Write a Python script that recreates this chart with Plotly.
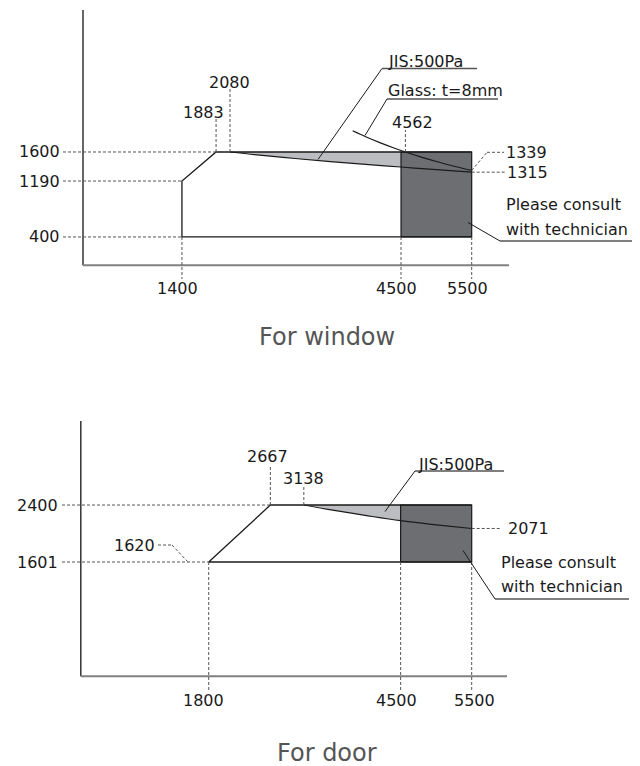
import plotly.graph_objects as go

# ---------------- data: window ----------------
win_x_ticks = [1400, 4500, 5500]
win_y_ticks = [400, 1190, 1600]
win_outline_x = [5500, 1400, 1400, 1883, 5500]
win_outline_y = [400, 400, 1190, 1600, 1600]
win_top_marks = [1883, 2080]
win_jis_x = [2080, 2500, 3000, 3500, 4000, 4500, 5000, 5500]
win_jis_y = [1600, 1555, 1508, 1465, 1425, 1388, 1350, 1315]
win_glass_x = [3816, 4000, 4200, 4400, 4562, 4800, 5000, 5250, 5500]
win_glass_y = [1900, 1816, 1733, 1657, 1600, 1524, 1466, 1399, 1339]
consult_x = [4500, 5500]
win_consult_y = [400, 1600]

# ---------------- data: door ----------------
door_x_ticks = [1800, 4500, 5500]
door_y_ticks = [1601, 2400]
door_outline_x = [5500, 1800, 2667, 5500]
door_outline_y = [1601, 1601, 2400, 2400]
door_top_marks = [2667, 3138]
door_jis_x = [3138, 3500, 4000, 4500, 5000, 5500]
door_jis_y = [2400, 2335, 2255, 2180, 2122, 2071]
door_consult_y = [1601, 2400]
door_side_label = 1620

LIGHT = "#bcbdc0"
DARK = "#6d6e71"
INK = "#1a1a1a"
DASH_C = "#555555"
FONT = "DejaVu Sans"
OFF = 8  # page body margin in the browser

# screen pixel -> data helpers (layout positioning only)
def wX(px): return (px - 83.0) * 14.15
def wY(py): return (265.3 - py) * 14.12
def dX(px): return (px - 80.8) * 14.07
def dY(py): return (676.2 - py) * 14.02

fig = go.Figure()
shapes = []
annos = []

def dash(x0, y0, x1, y1, ax):
    shapes.append(dict(type="line", xref="x" + ax, yref="y" + ax, x0=x0, y0=y0, x1=x1, y1=y1,
                       line=dict(color=DASH_C, width=1, dash="3px,2px")))

def solid(x0, y0, x1, y1, ax, color=INK, width=1):
    shapes.append(dict(type="line", xref="x" + ax, yref="y" + ax, x0=x0, y0=y0, x1=x1, y1=y1,
                       line=dict(color=color, width=width)))

def label(text, x, y, ax, xanchor="center", size=16, color=INK, family=FONT):
    annos.append(dict(text=text, x=x, y=y, xref="x" + ax, yref="y" + ax, showarrow=False,
                      xanchor=xanchor, yanchor="middle", font=dict(size=size, color=color, family=family)))

# ================= WINDOW =================
ax = ""
lx = [x for x in win_jis_x if x <= consult_x[0]]
ly = [y for x, y in zip(win_jis_x, win_jis_y) if x <= consult_x[0]]
fig.add_trace(go.Scatter(x=lx + [consult_x[0], win_jis_x[0]], y=ly + [win_y_ticks[2], win_y_ticks[2]],
                         fill="toself", fillcolor=LIGHT, mode="lines", line=dict(width=0),
                         xaxis="x", yaxis="y", hoverinfo="skip"))
fig.add_trace(go.Scatter(x=[consult_x[0], consult_x[1], consult_x[1], consult_x[0], consult_x[0]],
                         y=[win_consult_y[0], win_consult_y[0], win_consult_y[1], win_consult_y[1], win_consult_y[0]],
                         fill="toself", fillcolor=DARK, mode="lines", line=dict(color=INK, width=1.2),
                         xaxis="x", yaxis="y", hoverinfo="skip"))
fig.add_trace(go.Scatter(x=win_outline_x, y=win_outline_y, mode="lines", line=dict(color=INK, width=1.3),
                         xaxis="x", yaxis="y", hoverinfo="skip"))
fig.add_trace(go.Scatter(x=win_jis_x, y=win_jis_y, mode="lines", line=dict(color=INK, width=1.2, shape="spline"),
                         xaxis="x", yaxis="y", hoverinfo="skip"))
fig.add_trace(go.Scatter(x=win_glass_x, y=win_glass_y, mode="lines", line=dict(color=INK, width=1.2, shape="spline"),
                         xaxis="x", yaxis="y", hoverinfo="skip"))
solid(0, 0, 0, wY(10), ax, color="#333333", width=1.5)
solid(0, 0, wX(509), 0, ax, color="#808080", width=2)

guide_end = {400: 1400, 1190: 1400, 1600: 1883}
for v in win_y_ticks:
    label(str(v), wX(62), v, ax, xanchor="right")
    dash(wX(63), v, guide_end[v], v, ax)
for v in win_x_ticks:
    label(str(v), wX(83.0 + v / 14.15 - 4.5), wY(288), ax)
    dash(v, win_outline_y[0], v, wY(279), ax)
label(str(win_top_marks[0]), wX(203), wY(112), ax)
dash(win_top_marks[0], 1600, win_top_marks[0], wY(119), ax)
label(str(win_top_marks[1]), wX(229), wY(82), ax)
dash(win_top_marks[1], 1600, win_top_marks[1], wY(89), ax)
label("4562", wX(412), wY(122), ax)
dash(4562, 1600, 4562, wY(130), ax)
label(str(win_glass_y[-1]), wX(504), wY(152.5), ax, xanchor="left")
dash(win_glass_x[-1], win_glass_y[-1], wX(487), wY(152.3), ax)
dash(wX(487), wY(152.3), wX(504), wY(152.3), ax)
label(str(win_jis_y[-1]), wX(505), win_jis_y[-1], ax, xanchor="left")
dash(win_jis_x[-1], win_jis_y[-1], wX(505), win_jis_y[-1], ax)
label("JIS:500Pa", wX(386), wY(61), ax, xanchor="left")
solid(wX(382), wY(68.5), wX(477), wY(68.5), ax, color="#555555", width=1.3)
solid(wX(382), wY(68.5), wX(318), wY(159.5), ax)
label("Glass: t=8mm", wX(386), wY(90.5), ax, xanchor="left")
solid(wX(387), wY(99), wX(498), wY(99), ax, color="#555555", width=1.3)
solid(wX(387), wY(99), wX(365), wY(135.5), ax)
label("Please consult", wX(504), wY(204), ax, xanchor="left")
label("with technician", wX(504), wY(229.5), ax, xanchor="left")
solid(wX(500), wY(241), wX(634), wY(241), ax, color="#555555", width=1.3)
solid(wX(500), wY(241), wX(468), wY(222.5), ax)
label("For window", wX(327), wY(337), ax, size=24, color="#555555")

# ================= DOOR =================
ax = "2"
lx = [x for x in door_jis_x if x <= consult_x[0]]
ly = [y for x, y in zip(door_jis_x, door_jis_y) if x <= consult_x[0]]
fig.add_trace(go.Scatter(x=lx + [consult_x[0], door_jis_x[0]], y=ly + [door_y_ticks[1], door_y_ticks[1]],
                         fill="toself", fillcolor=LIGHT, mode="lines", line=dict(width=0),
                         xaxis="x2", yaxis="y2", hoverinfo="skip"))
fig.add_trace(go.Scatter(x=[consult_x[0], consult_x[1], consult_x[1], consult_x[0], consult_x[0]],
                         y=[door_consult_y[0], door_consult_y[0], door_consult_y[1], door_consult_y[1], door_consult_y[0]],
                         fill="toself", fillcolor=DARK, mode="lines", line=dict(color=INK, width=1.2),
                         xaxis="x2", yaxis="y2", hoverinfo="skip"))
fig.add_trace(go.Scatter(x=door_outline_x, y=door_outline_y, mode="lines", line=dict(color=INK, width=1.3),
                         xaxis="x2", yaxis="y2", hoverinfo="skip"))
fig.add_trace(go.Scatter(x=door_jis_x, y=door_jis_y, mode="lines", line=dict(color=INK, width=1.2, shape="spline"),
                         xaxis="x2", yaxis="y2", hoverinfo="skip"))
solid(0, 0, 0, dY(421), ax, color="#333333", width=1.5)
solid(0, 0, dX(507), 0, ax, color="#808080", width=2)

guide_end_d = {1601: 1800, 2400: 2667}
for v in door_y_ticks:
    label(str(v), dX(60), v, ax, xanchor="right")
    dash(dX(62), v, guide_end_d[v], v, ax)
x_shift_d = {1800: -5, 4500: -4, 5500: 3}
for v in door_x_ticks:
    label(str(v), dX(80.8 + v / 14.07 + x_shift_d[v]), dY(700), ax)
    dash(v, door_y_ticks[0], v, dY(692), ax)
label(str(door_top_marks[0]), dX(267), dY(456), ax)
dash(door_top_marks[0], 2400, door_top_marks[0], dY(466), ax)
label(str(door_top_marks[1]), dX(303), dY(478), ax)
dash(door_top_marks[1], 2400, door_top_marks[1], dY(487), ax)
label(str(door_side_label), dX(157), dY(545), ax, xanchor="right")
dash(dX(158), dY(545), dX(172), dY(545), ax)
dash(dX(172), dY(545), dX(188), door_y_ticks[0], ax)
label(str(door_jis_y[-1]), dX(506), door_jis_y[-1], ax, xanchor="left")
dash(door_jis_x[-1], door_jis_y[-1], dX(500), door_jis_y[-1], ax)
label("JIS:500Pa", dX(416), dY(464), ax, xanchor="left")
solid(dX(415), dY(471), dX(504), dY(471), ax, color="#555555", width=1.3)
solid(dX(415), dY(471), dX(385), dY(511.5), ax)
label("Please consult", dX(499), dY(562), ax, xanchor="left")
label("with technician", dX(499), dY(586), ax, xanchor="left")
solid(dX(495), dY(599), dX(629), dY(599), ax, color="#555555", width=1.3)
solid(dX(495), dY(599), dX(463), dY(550.5), ax)
label("For door", dX(327), dY(753), ax, size=24, color="#555555")

axis_common = dict(visible=False, showgrid=False, zeroline=False, fixedrange=True)
fig.update_layout(
    width=640, height=766, margin=dict(l=0, r=0, t=0, b=0),
    paper_bgcolor="white", plot_bgcolor="white", showlegend=False,
    xaxis=dict(domain=[0, 1], range=[wX(OFF), wX(OFF + 640)], anchor="y", **axis_common),
    yaxis=dict(domain=[0.5, 1], range=[wY(OFF + 383), wY(OFF)], anchor="x", **axis_common),
    xaxis2=dict(domain=[0, 1], range=[dX(OFF), dX(OFF + 640)], anchor="y2", **axis_common),
    yaxis2=dict(domain=[0, 0.5], range=[dY(OFF + 766), dY(OFF + 383)], anchor="x2", **axis_common),
    shapes=shapes, annotations=annos,
)
fig.write_html("out.html")
